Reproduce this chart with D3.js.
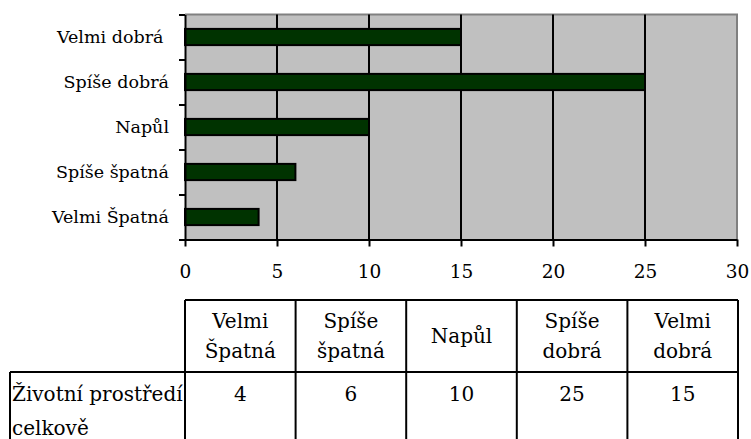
<!DOCTYPE html>
<html>
<head>
<meta charset="utf-8">
<script src="https://cdn.jsdelivr.net/npm/d3@7"></script>
<style>
  html, body { margin: 0; padding: 0; background: #ffffff; }
  svg { display: block; }
</style>
</head>
<body>
<svg id="chart" width="751" height="439"></svg>
<script>
// ---- data ----
const categories = ["Velmi Špatná", "Spíše špatná", "Napůl", "Spíše dobrá", "Velmi dobrá"];
const values = [4, 6, 10, 25, 15];
const yTickLabels = ["Velmi Špatná", "Spíše špatná", "Napůl", "Spíše dobrá", "Velmi dobrá\u00a0"];
const xTicks = [0, 5, 10, 15, 20, 25, 30];
const headerLabels = [["Velmi", "Špatná"], ["Spíše", "špatná"], ["Napůl"], ["Spíše", "dobrá"], ["Velmi", "dobrá"]];
const seriesLabel = ["Životní prostředí", "celkově"];

// ---- layout ----
const FONT = "DejaVu Serif";
const AX = 18.5, YL = 17.5, TB = 20;
const svg = d3.select("#chart");
const L = 185, R = 737, T = 14.5, B = 239.5;

const x = d3.scaleLinear().domain([0, 30]).range([L, R]);
const yOrder = categories.slice().reverse();
const y = d3.scaleBand().domain(yOrder).range([T, B]).paddingInner(0.64).paddingOuter(0.32);
const yBound = d3.scaleLinear().domain([0, categories.length]).range([B, T]);

// plot background
svg.append("rect").attr("x", L).attr("y", T).attr("width", R - L).attr("height", B - T)
  .attr("fill", "#c0c0c0");
// top and right borders (gray)
svg.append("path").attr("d", `M${L},${T}H${R}V${B}`).attr("fill", "none")
  .attr("stroke", "#808080").attr("stroke-width", 2);

// gridlines
svg.append("g").selectAll("line").data(xTicks.filter(t => t > 0 && t < 30)).join("line")
  .attr("x1", d => x(d)).attr("x2", d => x(d)).attr("y1", T).attr("y2", B)
  .attr("stroke", "#000").attr("stroke-width", 2);

// bars
svg.append("g").selectAll("rect").data(categories).join("rect")
  .attr("x", x(0))
  .attr("y", d => y(d))
  .attr("width", (d, i) => x(values[i]) - x(0))
  .attr("height", y.bandwidth())
  .attr("fill", "#003300")
  .attr("stroke", "#000").attr("stroke-width", 2);

// x axis
const xAxis = svg.append("g").attr("transform", `translate(0,${B})`)
  .call(d3.axisBottom(x).tickValues(xTicks).tickSize(7).tickPadding(18).tickSizeOuter(0));
xAxis.attr("font-family", FONT).attr("font-size", AX);
xAxis.select(".domain").attr("stroke", "#000").attr("stroke-width", 2);
xAxis.selectAll(".tick line").attr("stroke", "#000").attr("stroke-width", 2);
xAxis.selectAll(".tick text").attr("font-family", FONT).attr("font-size", AX).attr("fill", "#000");

// y axis (ticks between categories)
const yAxis = svg.append("g").attr("transform", `translate(${L},0)`)
  .call(d3.axisLeft(yBound).tickValues(d3.range(categories.length + 1)).tickSize(6).tickFormat("").tickSizeOuter(0));
yAxis.select(".domain").attr("stroke", "#000").attr("stroke-width", 2);
yAxis.selectAll(".tick line").attr("stroke", "#000").attr("stroke-width", 2);

// y labels
svg.append("g").selectAll("text").data(categories).join("text")
  .attr("x", 169)
  .attr("y", d => y(d) + y.bandwidth() / 2)
  .attr("dy", "0.36em")
  .attr("text-anchor", "end")
  .attr("font-family", FONT).attr("font-size", YL)
  .text((d, i) => yTickLabels[i]);

// ---- data table ----
const col = d3.scaleBand().domain(categories).range([L, 738]);
const tTop = 300, tMid = 372, tBot = 460, tLeft = 10;
const tg = svg.append("g").attr("stroke", "#000").attr("stroke-width", 2).attr("fill", "none");
tg.append("path").attr("d", `M${L},${tTop}H${738}`);
tg.append("path").attr("d", `M${tLeft},${tMid}H${738}`);
tg.append("path").attr("d", `M${tLeft},${tMid}V${tBot}`);
tg.selectAll("line.v").data(categories.concat(["end"])).join("line")
  .attr("x1", (d, i) => i < categories.length ? col(d) : 738)
  .attr("x2", (d, i) => i < categories.length ? col(d) : 738)
  .attr("y1", tTop).attr("y2", tBot);

// header labels
const hdr = svg.append("g").selectAll("text").data(categories).join("text")
  .attr("text-anchor", "middle").attr("font-family", FONT).attr("font-size", TB);
hdr.each(function (d, i) {
  const lines = headerLabels[i];
  const lh = 30;
  const cy = (tTop + tMid) / 2;
  const start = cy - (lines.length - 1) * lh / 2;
  d3.select(this).selectAll("tspan").data(lines).join("tspan")
    .attr("x", col(d) + col.bandwidth() / 2)
    .attr("y", (l, j) => start + j * lh)
    .attr("dy", "0.35em")
    .text(l => l);
});

// value row
svg.append("g").selectAll("text").data(categories).join("text")
  .attr("x", d => col(d) + col.bandwidth() / 2)
  .attr("y", 401)
  .attr("text-anchor", "middle").attr("font-family", FONT).attr("font-size", TB)
  .text((d, i) => values[i]);

svg.append("text").attr("font-family", FONT).attr("font-size", TB)
  .selectAll("tspan").data(seriesLabel).join("tspan")
  .attr("x", 12).attr("y", (d, j) => 401 + j * 34)
  .text(d => d);
</script>
</body>
</html>
